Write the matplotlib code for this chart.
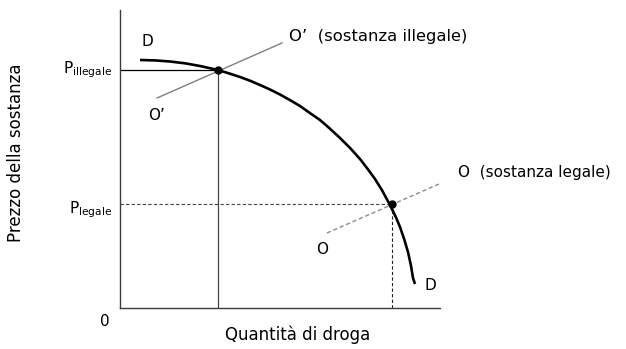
import matplotlib
matplotlib.use("Agg")
import matplotlib.pyplot as plt

# demand curve D (quantity, price)
dem_q = [20, 35, 50, 65, 80, 98, 110, 120, 130, 140, 150, 160, 170, 180, 190, 200,
         210, 220, 230, 240, 248, 255, 262, 270, 276, 280, 284, 288, 291, 293, 295]
dem_p = [248, 247.6, 246.5, 244.7, 242, 238, 234.3, 231, 227.3, 223, 218.5, 213.5,
         207.9, 202, 194.9, 188, 179.3, 170, 160.1, 149, 138.6, 129, 117.8, 103,
         90.6, 81, 69.4, 56, 42.2, 30, 24]

# supply lines
sup_ill_q = [37, 162]
sup_ill_p = [210, 265]
sup_leg_q = [207, 335]
sup_leg_p = [75, 131]

# equilibria
eq_ill = (98, 238)
eq_leg = (272, 104)

fig = plt.figure(figsize=(6.26, 3.49), dpi=100)
ax = fig.add_axes([120 / 626, 41 / 349, 320 / 626, 298 / 349])
ax.set_xlim(0, 320)
ax.set_ylim(0, 298)
for s in ['top', 'right']:
    ax.spines[s].set_visible(False)
for s in ['left', 'bottom']:
    ax.spines[s].set_color('#3c3c3c')
    ax.spines[s].set_linewidth(1.0)
ax.set_xticks([])
ax.set_yticks([])

fs = 11
# reference lines
ax.plot([0, eq_ill[0]], [eq_ill[1], eq_ill[1]], color='black', lw=0.9)
ax.plot([eq_ill[0], eq_ill[0]], [0, eq_ill[1]], color='#444444', lw=0.9)
ax.plot([0, eq_leg[0]], [eq_leg[1], eq_leg[1]], color='#444444', lw=0.8, ls=(0, (3, 2)))
ax.plot([eq_leg[0], eq_leg[0]], [0, eq_leg[1]], color='#222222', lw=0.8, ls=(0, (3, 2)))

ax.plot(sup_ill_q, sup_ill_p, color='#7f7f7f', lw=1.0)
ax.plot(sup_leg_q, sup_leg_p, color='#8a8a8a', lw=1.0, ls=(0, (3, 2)))
ax.plot(dem_q, dem_p, color='black', lw=1.9, solid_capstyle='butt', solid_joinstyle='round')
ax.plot([eq_ill[0], eq_leg[0]], [eq_ill[1], eq_leg[1]], 'o', color='black', ms=5, ls='none')

kw = dict(color='black', clip_on=False)
ax.text(27, 266, 'D', ha='center', va='center', fontsize=fs, **kw)
ax.text(169, 271, 'O\u2019  (sostanza illegale)', ha='left', va='center', fontsize=11.8, **kw)
ax.text(37, 193, 'O\u2019', ha='center', va='center', fontsize=fs, **kw)
ax.text(338, 136, 'O  (sostanza legale)', ha='left', va='center', fontsize=fs, **kw)
ax.text(202, 58, 'O', ha='center', va='center', fontsize=fs, **kw)
ax.text(310, 23, 'D', ha='center', va='center', fontsize=fs, **kw)
ax.text(-8, 238, r'P$_\mathregular{illegale}$', ha='right', va='center', fontsize=fs, **kw)
ax.text(-8, 98, r'P$_\mathregular{legale}$', ha='right', va='center', fontsize=fs, **kw)
ax.text(-15, -13, '0', ha='center', va='center', fontsize=fs, **kw)
ax.text(178, -27, 'Quantità di droga', ha='center', va='center', fontsize=12, **kw)
ax.text(-104, 155, 'Prezzo della sostanza', ha='center', va='center', rotation=90,
        fontsize=12, **kw)

fig.savefig('out.png', dpi=100)
